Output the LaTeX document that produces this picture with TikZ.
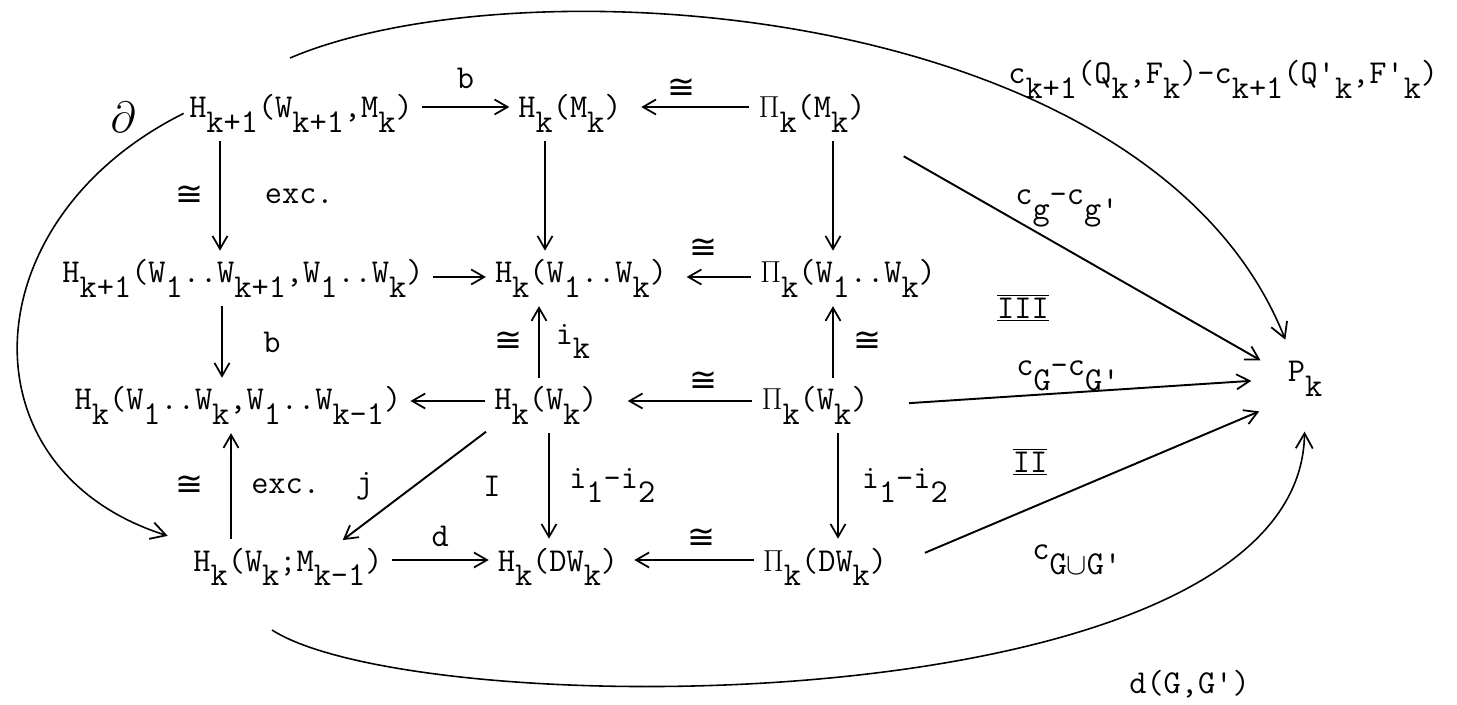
\documentclass[tikz,border=0pt]{standalone}
\usepackage{fontspec}
\newfontfamily\symf{DejaVu Sans}
\usetikzlibrary{arrows.meta}
\newcommand\dn[1]{\raisebox{-0.42em}{#1}}
\newcommand\iso{{\symf ≅}}
\begin{document}
\begin{tikzpicture}[x=0.02cm,y=-0.02cm,
  every node/.style={font=\fontsize{19}{22}\selectfont\ttfamily},
  obj/.style={anchor=base,inner sep=3pt},
  txt/.style={anchor=base west,inner sep=0pt},
  lbl/.style={inner sep=1pt},
  ar/.style={-{Straight Barb[length=2.6mm,width=3mm,line width=1pt]},line width=1.1pt,shorten <=2pt,shorten >=2pt},
  cv/.style={-{Straight Barb[length=3mm,width=3.4mm,line width=1pt]},line width=0.9pt},
]
\fill[white] (0,0) rectangle (1457,705);
\useasboundingbox (0,0) rectangle (1457,705);
% objects
\node[obj] (n11) at (301,118) {H\dn{k+1}(W\dn{k+1},M\dn{k})};
\node[obj] (n12) at (570,118) {H\dn{k}(M\dn{k})};
\node[obj] (n13) at (812,118) {$\Pi$\dn{k}(M\dn{k})};
\node[obj] (n21) at (243,283) {H\dn{k+1}(W\dn{1}..W\dn{k+1},W\dn{1}..W\dn{k})};
\node[obj] (n22) at (581,283) {H\dn{k}(W\dn{1}..W\dn{k})};
\node[obj] (n23) at (848,283) {$\Pi$\dn{k}(W\dn{1}..W\dn{k})};
\node[obj] (n31) at (238,410) {H\dn{k}(W\dn{1}..W\dn{k},W\dn{1}..W\dn{k-1})};
\node[obj] (n32) at (546,410) {H\dn{k}(W\dn{k})};
\node[obj] (n33) at (815,410) {$\Pi$\dn{k}(W\dn{k})};
\node[obj] (n41) at (288,571) {H\dn{k}(W\dn{k};M\dn{k-1})};
\node[obj] (n42) at (558,571) {H\dn{k}(DW\dn{k})};
\node[obj] (n43) at (825,571) {$\Pi$\dn{k}(DW\dn{k})};
\node[obj] (P) at (1305,382) {P\dn{k}};
% helper coordinates
\coordinate (xa) at (220,0); \coordinate (xb) at (222,0); \coordinate (xc) at (231,0);
\coordinate (ya) at (545,0); \coordinate (yb) at (539,0); \coordinate (yc) at (549,0);
\coordinate (za) at (833,0); \coordinate (zb) at (833,0); \coordinate (zc) at (838,0);
\coordinate (h1) at (0,107); \coordinate (h2) at (0,277); \coordinate (h3) at (0,401); \coordinate (h4) at (0,560);
% horizontal arrows
\draw[ar] (n11.east |- h1) -- node[lbl,above=9pt]{b} (n12.west |- h1);
\draw[ar,shorten >=8pt] (n13.west |- h1) -- node[lbl,pos=0.57,above=3pt]{\iso} (n12.east |- h1);
\draw[ar] (n21.east |- h2) -- (n22.west |- h2);
\draw[ar,shorten >=8pt] (n23.west |- h2) -- node[lbl,pos=0.62,above=9pt]{\iso} (n22.east |- h2);
\draw[ar] (n32.west |- h3) -- (n31.east |- h3);
\draw[ar,shorten >=14pt] (n33.west |- h3) -- node[lbl,pos=0.34,above=4pt]{\iso} (n32.east |- h3);
\draw[ar] (n41.east |- h4) -- node[lbl,above=6pt]{d} (n42.west |- h4);
\draw[ar,shorten >=6pt] (n43.west |- h4) -- node[lbl,pos=0.42,above=5pt]{\iso} (n42.east |- h4);
% vertical arrows
\draw[ar] (n11.south -| xa) -- node[lbl,left=8pt]{\iso} node[lbl,right=24pt]{exc.} (n21.north -| xa);
\draw[ar] (n21.south -| xb) -- node[lbl,right=22pt]{b} (n31.north -| xb);
\draw[ar] (n41.north -| xc) -- node[lbl,left=14pt]{\iso} node[lbl,right=10pt]{exc.} (n31.south -| xc);
\draw[ar] (n12.south -| ya) -- (n22.north -| ya);
\draw[ar] (n32.north -| yb) -- node[lbl,left=8pt]{\iso} node[lbl,right=8pt]{i\dn{k}} (n22.south -| yb);
\draw[ar] (n32.south -| yc) -- node[lbl,left=26pt]{I} node[lbl,right=10pt]{i\dn{1}-i\dn{2}} (n42.north -| yc);
\draw[ar] (n13.south -| za) -- (n23.north -| za);
\draw[ar] (n33.north -| zb) -- node[lbl,right=10pt]{\iso} (n23.south -| zb);
\draw[ar] (n33.south -| zc) -- node[lbl,right=12pt]{i\dn{1}-i\dn{2}} (n43.north -| zc);
\draw[ar] (n32.south west) -- node[lbl,left=22pt]{j} (n41.25);
% maps to P
\draw[ar,shorten <=0.75cm,shorten >=0.5cm] (n13.south east) -- (P.165);
\node[txt] (lg) at (1015,205) {c\dn{g}-c\dn{g'}};
\draw[ar,shorten <=0.7cm,shorten >=0.62cm] (n33.east) -- (P.west);
\node[txt] (lG) at (1016,376) {c\dn{G}-c\dn{G'}};
\draw[ar,shorten <=0.7cm,shorten >=0.5cm] (n43.east) -- (P.south west);
\node[txt] (lGG) at (1032,560) {c\dn{G$\cup$G'}};
% region labels
\node (r3) at (1023,308) {$\overline{\underline{\hbox{III}}}$};
\node (r2) at (1030,462) {$\overline{\underline{\hbox{II}}}$};
% big curves
\draw[cv,shorten >=12pt] (n11.west) .. controls (-30,220) and (-40,470) .. (n41.north west);
\node (dl) at (123,117) {\fontsize{28}{30}\selectfont$\partial$};
\coordinate (ts) at (290,58);
\draw[cv,shorten >=0.35cm] (ts) .. controls (520,-40) and (1150,0) .. (P.120);
\node[txt] (lt) at (1008,84) {c\dn{k+1}(Q\dn{k},F\dn{k})-c\dn{k+1}(Q'\dn{k},F'\dn{k})};
\coordinate (bs) at (272,630);
\draw[cv,shorten >=0.6cm] (bs) .. controls (420,725) and (1300,725) .. (P.south);
\node[txt] (ld) at (1129,693) {d(G,G')};
\end{tikzpicture}
\end{document}
